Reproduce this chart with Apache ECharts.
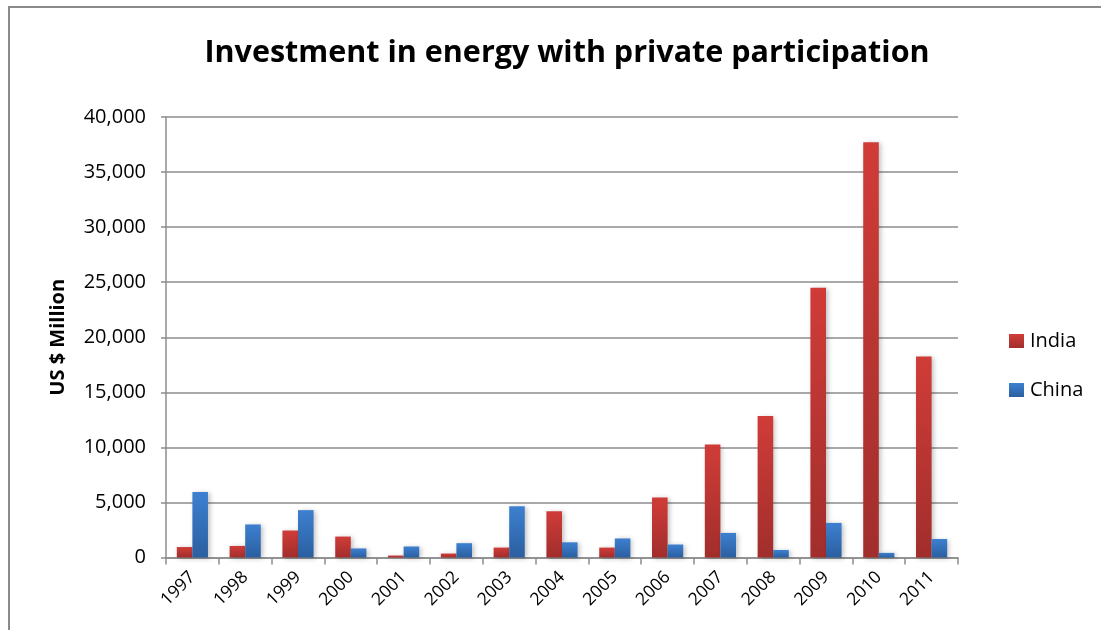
<!DOCTYPE html>
<html>
<head>
<meta charset="utf-8">
<script src="https://cdn.jsdelivr.net/npm/echarts@6/dist/echarts.min.js"></script>
<style>
  html, body { margin: 0; padding: 0; background: #fff; }
  #chart { width: 1101px; height: 630px; }
</style>
</head>
<body>
<div id="chart"></div>
<script>
// Years on the category axis
const years = ['1997','1998','1999','2000','2001','2002','2003','2004','2005','2006','2007','2008','2009','2010','2011'];
// Investment in energy projects with private participation, US$ million
const india = [950, 1050, 2450, 1900, 180, 360, 900, 4200, 900, 5450, 10250, 12850, 24500, 37700, 18250];
const china = [5950, 3000, 4300, 820, 1000, 1300, 4650, 1380, 1730, 1180, 2230, 680, 3140, 420, 1680];
// Value axis range
const yMin = 0, yMax = 40000, yStep = 5000;

const chart = echarts.init(document.getElementById('chart'));

function grad(top, bottom) {
  return new echarts.graphic.LinearGradient(0, 0, 0, 1, [
    { offset: 0, color: top },
    { offset: 1, color: bottom }
  ]);
}

const FONT = '"Open Sans", "Noto Sans", sans-serif';

chart.setOption({
  backgroundColor: '#ffffff',
  animation: false,
  title: {
    text: 'Investment in energy with private participation',
    left: 562, top: 33,
    textAlign: 'center',
    textStyle: { fontFamily: FONT, fontWeight: 'bold', fontSize: 30.5, color: '#000' }
  },
  legend: {
    orient: 'vertical',
    left: 1004, top: 326,
    itemWidth: 15, itemHeight: 14, itemGap: 29,
    icon: 'rect',
    textStyle: { fontFamily: FONT, fontSize: 20, color: '#000', padding: [0, 0, 0, 1] },
    data: ['India', 'China']
  },
  grid: { left: 166, right: 143, top: 117, bottom: 72.5 },
  xAxis: {
    type: 'category',
    data: years,
    axisLine: { lineStyle: { color: '#8c8c8c', width: 1.5 } },
    axisTick: { show: true, length: 7, lineStyle: { color: '#8c8c8c', width: 1.5 } },
    axisLabel: {
      rotate: 45, margin: 17, interval: 0,
      fontFamily: FONT, fontSize: 17.5, color: '#000'
    }
  },
  yAxis: {
    type: 'value',
    min: yMin, max: yMax, interval: yStep,
    name: 'US $ Million',
    nameLocation: 'middle',
    nameGap: 98,
    nameTextStyle: { fontFamily: FONT, fontWeight: 'bold', fontSize: 20, color: '#000' },
    axisLine: { show: true, lineStyle: { color: '#8c8c8c', width: 1.5 } },
    axisTick: { show: true, length: 5, lineStyle: { color: '#8c8c8c', width: 1.5 } },
    splitLine: { lineStyle: { color: '#8c8c8c', width: 1.5 } },
    axisLabel: {
      margin: 20,
      fontFamily: FONT, fontSize: 20, color: '#000',
      formatter: v => v.toLocaleString('en-US')
    }
  },
  series: [
    {
      name: 'India', type: 'bar', data: india,
      barGap: '0%', barCategoryGap: '41%',
      itemStyle: {
        color: grad('#d03c38', '#a12e2c'),
        shadowColor: 'rgba(0,0,0,0.25)', shadowBlur: 5, shadowOffsetX: 2, shadowOffsetY: 1
      }
    },
    {
      name: 'China', type: 'bar', data: china,
      barGap: '0%', barCategoryGap: '41%',
      itemStyle: {
        color: grad('#3d80d0', '#2b5fa0'),
        shadowColor: 'rgba(0,0,0,0.25)', shadowBlur: 5, shadowOffsetX: 2, shadowOffsetY: 1
      }
    }
  ],
  graphic: [
    // frame around the figure (top and left edges)
    {
      type: 'polyline',
      shape: { points: [[9, 630], [9, 7], [1101, 7]] },
      style: { stroke: '#8a8a8a', lineWidth: 2, fill: null }
    }
  ]
});
</script>
</body>
</html>
